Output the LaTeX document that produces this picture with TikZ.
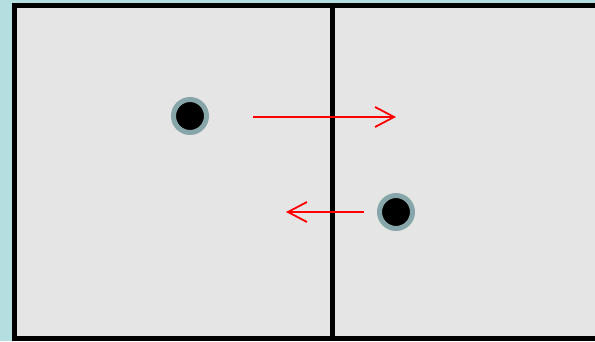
\documentclass[tikz,border=0pt]{standalone}
\usetikzlibrary{arrows.meta}
\definecolor{paleblue}{RGB}{181,222,224}
\definecolor{panelgray}{RGB}{229,229,229}
\definecolor{ringgray}{RGB}{134,166,170}
\tikzset{
  backdrop/.style={fill=paleblue},
  panel/.style={fill=panelgray,draw=black,line width=5pt},
  divider/.style={draw=black,line width=4.5pt},
  particle/.style={circle,fill=black,draw=ringgray,line width=5pt,minimum size=33pt,inner sep=0pt},
  hop/.style={draw=red,line width=1.8pt,-{Straight Barb[length=19pt,width=20pt,line width=1.8pt]}}
}

\begin{document}
\begin{tikzpicture}[x=1pt,y=-1pt]
  % Frame and background
  \useasboundingbox (0,0) rectangle (595,341);
  \clip (0,0) rectangle (595,341);
  \fill[backdrop] (0,0) rectangle (595,341);

  % Two cells with the wall between them
  \draw[panel] (14.5,5.5) rectangle (610,338.5);
  \draw[divider] (332.5,5.5) -- (332.5,338.5);

  % Particles
  \node[particle] (left) at (190,116) {};
  \node[particle] (right) at (396,212) {};

  % Arrow ends
  \coordinate (outstart) at (253,117);
  \coordinate (outend) at (396,117);
  \coordinate (instart) at (364,212);
  \coordinate (inend) at (286,212);

  % Moves across the wall
  \draw[hop] (outstart) -- (outend);
  \draw[hop] (instart) -- (inend);
\end{tikzpicture}
\end{document}
